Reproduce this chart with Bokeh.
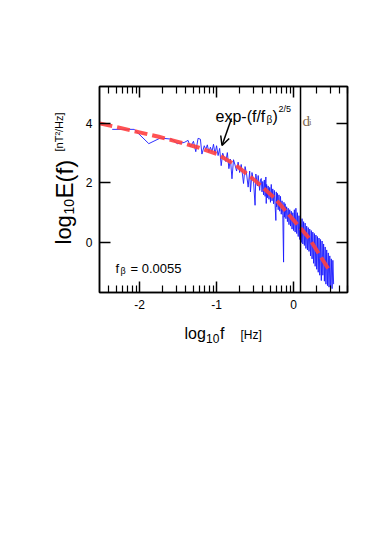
import math
import numpy as np
from bokeh.plotting import figure
from bokeh.models import Label, Span, Arrow, OpenHead, FixedTicker, LinearAxis, Range1d
from bokeh.embed import file_html
from bokeh.resources import INLINE

# ---------------- data ----------------
blue_x = [-2.355, -2.07, -1.88, -1.73, -1.58, -1.51, -1.42, -1.37, -1.34, -1.30,
          -1.27, -1.24, -1.21, -1.19, -1.16, -1.14, -1.12, -1.10, -1.08, -1.06,
          -1.04, -1.02, -1.00, -0.98, -0.96, -0.94, -0.92, -0.90, -0.88, -0.86,
          -0.84, -0.82, -0.80, -0.78, -0.76, -0.74, -0.72, -0.70, -0.68, -0.66,
          -0.65, -0.63, -0.61, -0.59, -0.57, -0.56, -0.54, -0.52, -0.50, -0.49,
          -0.47, -0.46, -0.44, -0.43,
          -0.42, -0.41, -0.40, -0.39, -0.38, -0.37, -0.36, -0.355, -0.35, -0.34,
          -0.33, -0.32, -0.31, -0.30, -0.29, -0.28, -0.27, -0.26, -0.25, -0.24,
          -0.23, -0.225, -0.22, -0.21, -0.20, -0.19, -0.18, -0.17, -0.16, -0.15,
          -0.14, -0.13, -0.125, -0.12, -0.11, -0.10, -0.09, -0.08, -0.07, -0.06,
          -0.05, -0.04, -0.03, -0.02, -0.01, 0.00, 0.01, 0.02, 0.03, 0.04,
          0.05, 0.06, 0.07, 0.08, 0.09, 0.10, 0.11, 0.12, 0.13, 0.14,
          0.15, 0.16, 0.17, 0.18, 0.19, 0.20, 0.21, 0.22, 0.23, 0.24,
          0.25, 0.26, 0.27, 0.28, 0.29, 0.30, 0.31, 0.32, 0.33, 0.34,
          0.35, 0.36, 0.37, 0.38, 0.39, 0.40, 0.41, 0.42, 0.43, 0.44,
          0.45, 0.46, 0.47, 0.48, 0.49, 0.50, 0.51, 0.52]
blue_y = [3.80, 3.80, 3.32, 3.51, 3.47, 3.32, 3.36, 3.43, 3.21, 3.40,
          3.05, 3.50, 3.47, 2.97, 3.25, 3.13, 3.28, 3.03, 3.20, 3.05,
          3.30, 2.98, 3.25, 2.92, 3.16, 2.58, 3.00, 2.85, 2.72, 3.02,
          2.48, 2.80, 2.14, 2.78, 2.60, 2.40, 2.70, 2.35, 2.62, 2.20,
          1.98, 2.55, 2.30, 1.86, 2.40, 1.70, 2.35, 2.05, 1.25, 2.30,
          1.90, 2.25, 1.75, 2.10,
          2.15, 1.70, 2.05, 1.60, 2.10, 1.55, 2.20, 1.31, 1.95, 1.50,
          1.90, 1.45, 1.85, 1.35, 1.95, 1.40, 1.80, 1.30, 1.75, 1.25,
          0.74, 1.70, 1.20, 1.65, 1.10, 1.60, 1.05, 1.55, 0.95, 1.40,
          0.90, -0.66, 1.35, 0.85, 1.30, 0.80, 1.20, 0.70, 1.15, 0.60,
          1.10, 0.55, 1.05, 0.45, 1.00, 0.40, 1.10, 0.35, 1.15, 0.30,
          1.00, 0.20, 0.90, 0.10, 0.85, 0.00, 0.80, -0.05, 0.70, -0.10,
          0.65, -0.20, 0.55, -0.25, 0.50, -0.30, 0.45, -0.45, 0.40, -0.55,
          0.35, -0.70, 0.30, -0.80, 0.25, -0.90, 0.20, -1.00, 0.15, -1.10,
          0.10, -1.28, 0.05, -1.10, -0.05, -1.30, -0.15, -1.40, -0.25, -1.45,
          -0.35, -1.50, -0.45, -1.60, -0.55, -1.55, -0.60, -1.40]

fit_x = [-2.52, -2.25, -2.0, -1.75, -1.5, -1.25, -1.0, -0.75, -0.5, -0.25, 0.0, 0.2, 0.45]
fit_y = [4.00, 3.85, 3.70, 3.55, 3.38, 3.20, 2.98, 2.60, 2.08, 1.50, 0.75, 0.15, -0.88]

di_log10f = 0.09
f_beta_text = "= 0.0055"

x_major = [-2, -1, 0]
x_major_labels = ["-2", "-1", "0"]
y_major = [0, 2, 4]
y_major_labels = ["0", "2", "4"]
x_minor = [float(np.log10(k * 10.0 ** n)) for n in (-3, -2, -1, 0) for k in range(2, 10)]
x_minor = [v for v in x_minor if -2.52 <= v <= 0.70]

# ---------------- figure ----------------
X0, X1, Y0, Y1 = -2.52, 0.70, -1.68, 5.24
FL, FR, FT, FB = 99, 347, 86, 292  # frame edges in page pixels
W, H = 366, 358


def dx(px):
    return X0 + (px - FL) / (FR - FL) * (X1 - X0)


def dy(py):
    return Y0 + (FB - py) / (FB - FT) * (Y1 - Y0)


p = figure(width=W, height=H, x_range=Range1d(X0, X1), y_range=Range1d(Y0, Y1),
           output_backend="svg", toolbar_location=None,
           min_border_left=FL, min_border_right=W - FR,
           min_border_top=FT, min_border_bottom=H - FB)
p.xgrid.visible = False
p.ygrid.visible = False
p.outline_line_color = "black"
p.outline_line_width = 1.5
p.background_fill_color = "white"
p.border_fill_color = "white"

FONT = "Liberation Sans"


def style_axis(ax, ticks, minor, overrides, show_labels):
    ax.ticker = FixedTicker(ticks=ticks, minor_ticks=minor)
    ax.major_label_overrides = overrides
    ax.axis_line_color = "black"
    ax.axis_line_width = 1.5
    ax.major_tick_line_color = "black"
    ax.major_tick_line_width = 1.5
    ax.major_tick_in = 11
    ax.major_tick_out = 0
    ax.minor_tick_in = 7
    ax.minor_tick_out = 0
    ax.minor_tick_line_width = 1.2
    ax.minor_tick_line_color = "black" if minor else None
    ax.major_label_text_font = FONT
    ax.major_label_text_font_size = "12px" if show_labels else "0px"
    ax.major_label_text_color = "black"
    ax.major_label_standoff = 7
    ax.axis_label = None


xb = p.xaxis[0]
yl = p.yaxis[0]
style_axis(xb, x_major, x_minor, dict(zip(x_major, x_major_labels)), True)
style_axis(yl, y_major, [], dict(zip(y_major, y_major_labels)), True)

xt = LinearAxis()
style_axis(xt, x_major, x_minor, {t: "" for t in x_major}, False)
p.add_layout(xt, "above")
yr = LinearAxis()
style_axis(yr, y_major, [], {t: "" for t in y_major}, False)
p.add_layout(yr, "right")

# spectrum and fit
p.line(blue_x, blue_y, line_color="#1a1aff", line_width=1, line_alpha=0.9)
p.line(fit_x, fit_y, line_color="#ff4040", line_width=4, line_alpha=0.9, line_dash="13 5")

# ion inertial length marker
p.add_layout(Span(location=di_log10f, dimension="height", line_color="black", line_width=1.5))


def lab(text, px, py, size, angle=0.0, font=FONT, color="black", side=None):
    lbl = Label(x=dx(px), y=dy(py), text=text, text_font=font,
                text_font_size=f"{size}px", text_color=color,
                text_align="left", text_baseline="alphabetic", angle=angle)
    if side is None:
        p.add_layout(lbl)
    else:
        p.add_layout(lbl, side)


# annotations inside
lab("exp-(f/f", 215, 116, 16)
lab("β", 266, 119, 10)
lab(")", 272, 116, 16)
lab("2/5", 278, 108, 9)
p.add_layout(Arrow(end=OpenHead(size=9, line_width=1.5, line_color="black"),
                   x_start=dx(231), y_start=dy(118), x_end=dx(221.5), y_end=dy(145),
                   line_width=1.5, line_color="black"))

lab("d", 302, 120, 15, font="Liberation Serif", color="#806a50")
lab("i", 308.5, 121, 9, font="Liberation Serif", color="#806a50")

lab("f", 115, 268, 13)
lab("β", 120, 270, 9)
lab(f_beta_text, 130, 268, 13)

# x axis title (placed in side panels so it is not clipped by the frame)
lab("log", 184, 333, 16, side="below")
lab("f", 219.5, 333, 16, side="below")
lab("10", 205.5, 338, 12, side="above")
lab("[Hz]", 240, 334, 12, side="above")

# y axis title (rotated)
R = math.pi / 2
lab("log", 63, 244, 22, angle=R, side="left")
lab("10", 68, 214, 14, angle=R, side="left")
lab("E(f)", 64, 198, 24, angle=R, side="left")
lab("[nT²/Hz]", 58, 151, 11, angle=R, side="above")

open("out.html", "w").write(file_html(p, INLINE))
